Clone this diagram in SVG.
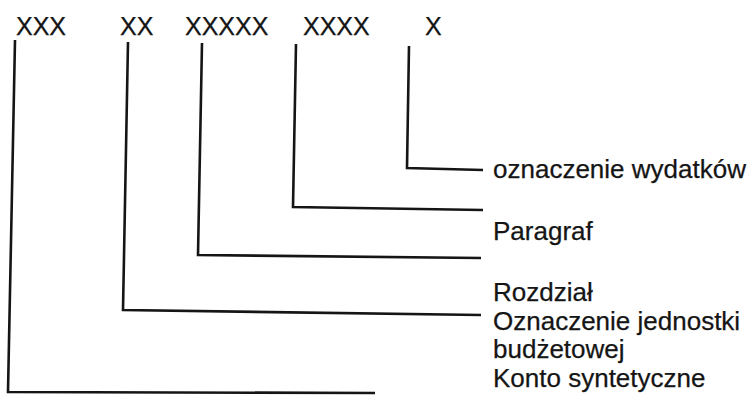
<svg xmlns="http://www.w3.org/2000/svg" width="753" height="396" viewBox="0 0 753 396">
<style>
  text { font-family: "Liberation Sans", Arial, sans-serif; font-size: 25px; fill: #151515; stroke: #151515; stroke-width: 0.25; }
  .lbl { font-size: 26px; }
  .conn { fill: none; stroke: #151515; stroke-width: 2.6; stroke-linejoin: miter; }
</style>
<rect width="753" height="396" fill="#ffffff"/>
<g id="code">
  <g id="seg1"><text x="16" y="35">XXX</text></g>
  <g id="seg2"><text x="120" y="35">XX</text></g>
  <g id="seg3"><text x="185" y="35">XXXXX</text></g>
  <g id="seg4"><text x="303" y="35">XXXX</text></g>
  <g id="seg5"><text x="425" y="35">X</text></g>
</g>
<g id="connectors">
  <polyline class="conn" points="15,40 8,392 375,393"/>
  <polyline class="conn" points="128,42 123,310 481,315"/>
  <polyline class="conn" points="202,43 198,255 481,258"/>
  <polyline class="conn" points="296,44 293,207 483,210"/>
  <polyline class="conn" points="409,46 407,168 483,170"/>
</g>
<g id="label-wydatki"><text class="lbl" x="493" y="178">oznaczenie wydatków</text></g>
<g id="label-paragraf"><text class="lbl" x="493" y="240">Paragraf</text></g>
<g id="label-rozdzial"><text class="lbl" x="493" y="301">Rozdział</text></g>
<g id="label-jednostka"><text class="lbl" x="493" y="330">Oznaczenie jednostki</text><text class="lbl" x="493" y="358">budżetowej</text></g>
<g id="label-konto"><text class="lbl" x="493" y="387">Konto syntetyczne</text></g>
</svg>
